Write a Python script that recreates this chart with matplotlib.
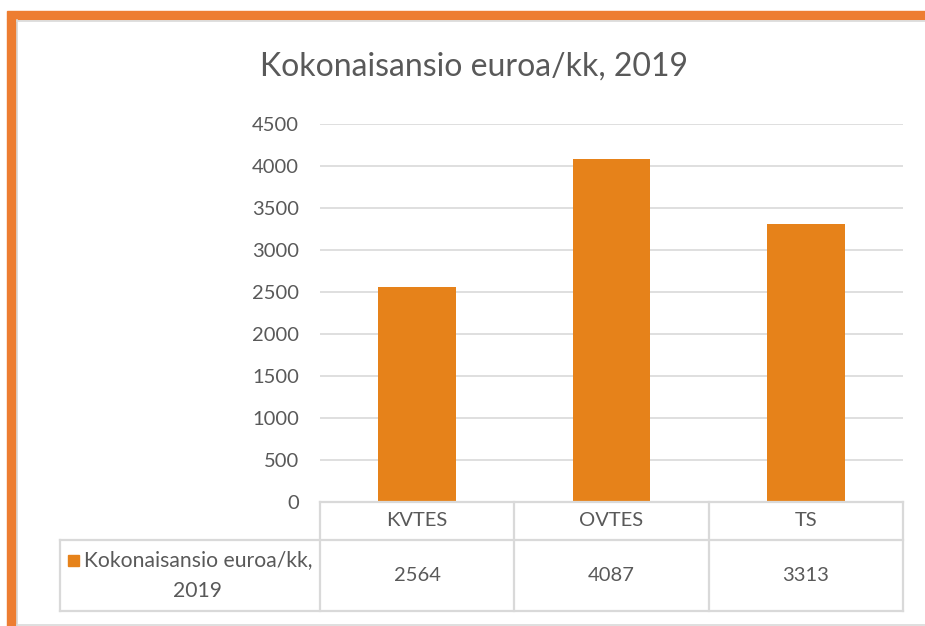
import matplotlib
matplotlib.use("Agg")
import matplotlib.pyplot as plt
from matplotlib.patches import Rectangle
from matplotlib.lines import Line2D

# data
categories = ["KVTES", "OVTES", "TS"]
values = [2564, 4087, 3313]
series_name = "Kokonaisansio euroa/kk, 2019"
title = "Kokonaisansio euroa/kk, 2019"
yticks = [0, 500, 1000, 1500, 2000, 2500, 3000, 3500, 4000, 4500]

W, H = 925, 626
BAR = "#E6821A"
EDGE = "#ED7D31"
GRID = "#D9D9D9"
TXT = "#595959"

plt.rcParams["font.family"] = ["Lato", "DejaVu Sans"]

fig = plt.figure(figsize=(W / 100, H / 100), dpi=100)


def fx(px):
    return px / W


def fy(py):
    return 1 - py / H


# outer frame: orange band plus thin grey inner border
fig.patches.append(Rectangle((fx(7), fy(626)), fx(9), fy(19) - fy(626),
                             transform=fig.transFigure, color=EDGE, zorder=0))
fig.patches.append(Rectangle((fx(7), fy(19)), 1, fy(11) - fy(19),
                             transform=fig.transFigure, color=EDGE, zorder=0))
fig.lines.append(Line2D([fx(16.5), fx(16.5)], [fy(20), fy(626)], transform=fig.transFigure,
                        color=GRID, lw=1.2))
fig.lines.append(Line2D([fx(16.5), 1], [fy(20.5), fy(20.5)], transform=fig.transFigure,
                        color=GRID, lw=1.2))
fig.lines.append(Line2D([fx(16.5), 1], [fy(624.5), fy(624.5)], transform=fig.transFigure,
                        color=GRID, lw=1.2))

# plot area
x0, x1, ytop, ybot = 320, 903, 124, 502
ax = fig.add_axes([fx(x0), fy(ybot), fx(x1) - fx(x0), fy(ytop) - fy(ybot)])
pos = list(range(len(categories)))
ax.bar(pos, values, width=0.4, color=BAR, zorder=3)
ax.set_xlim(-0.5, len(categories) - 0.5)
ax.set_ylim(0, 4500)
ax.set_yticks(yticks)
ax.set_yticklabels([str(v) for v in yticks])
ax.tick_params(axis="y", length=0, pad=15, labelsize=14.5, labelcolor=TXT)
ax.tick_params(axis="x", length=0, labelbottom=False)
ax.grid(axis="y", color=GRID, lw=1.2, zorder=0)
for s in ax.spines.values():
    s.set_visible(False)

fig.text(fx(474), fy(67), title, ha="center", va="center", fontsize=23, color=TXT)

# data table
cw = (x1 - x0) / len(categories)
row1, row2, row3 = 502, 540, 611
leg_x = 60
tl = dict(transform=fig.transFigure, color=GRID, lw=1.6)
fig.lines.append(Line2D([fx(x0), fx(x1)], [fy(row1), fy(row1)], **tl))
fig.lines.append(Line2D([fx(leg_x), fx(x1)], [fy(row2), fy(row2)], **tl))
fig.lines.append(Line2D([fx(leg_x), fx(x1)], [fy(row3), fy(row3)], **tl))
fig.lines.append(Line2D([fx(leg_x), fx(leg_x)], [fy(row2), fy(row3)], **tl))
for i in range(len(categories) + 1):
    xl = x0 + i * cw
    fig.lines.append(Line2D([fx(xl), fx(xl)], [fy(row1), fy(row3)], **tl))

for i, (cat, val) in enumerate(zip(categories, values)):
    xc = x0 + (i + 0.5) * cw
    fig.text(fx(xc), fy((row1 + row2) / 2), cat, ha="center", va="center",
             fontsize=14.5, color=TXT)
    fig.text(fx(xc), fy((row2 + row3) / 2), str(val), ha="center", va="center",
             fontsize=14.5, color=TXT)

# legend cell
fig.patches.append(Rectangle((fx(68), fy(566)), fx(11), fy(555) - fy(566),
                             transform=fig.transFigure, color=BAR))
first, second = series_name.rsplit(" ", 1)
fig.text(fx(84), fy(560), first, ha="left", va="center", fontsize=15.2, color=TXT)
fig.text(fx(198), fy(591), second, ha="center", va="center", fontsize=15.2, color=TXT)

fig.savefig("out.png", dpi=100)
